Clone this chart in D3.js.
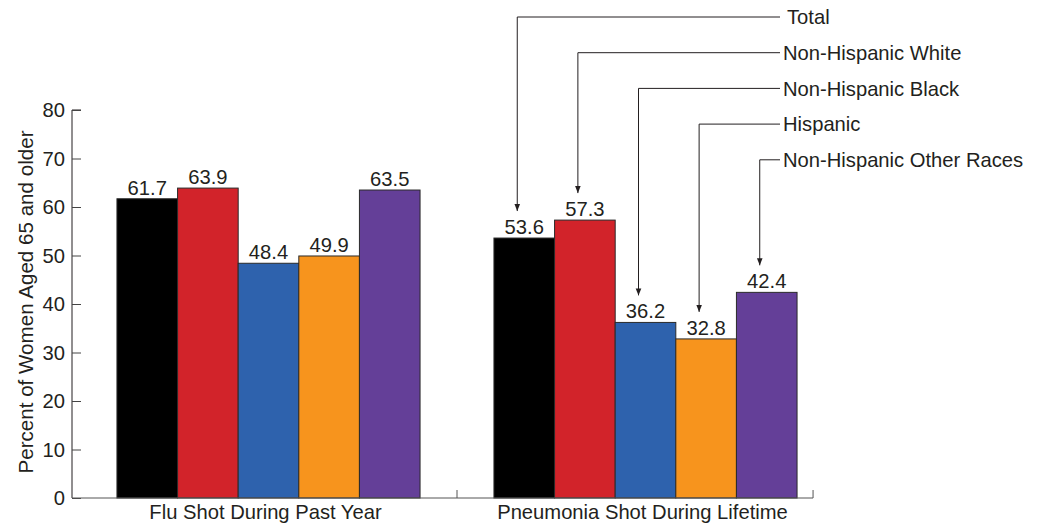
<!DOCTYPE html>
<html><head><meta charset="utf-8">
<script src="https://cdn.jsdelivr.net/npm/d3@7"></script>
<style>
html,body{margin:0;padding:0;background:#fff;}
text{font-family:"Liberation Sans",Arial,sans-serif;fill:#231f20;}
</style></head>
<body><svg id="c" width="1044" height="523"></svg>
<script>
const groups = ["Flu Shot During Past Year", "Pneumonia Shot During Lifetime"];
const seriesNames = ["Total", "Non-Hispanic White", "Non-Hispanic Black", "Hispanic", "Non-Hispanic Other Races"];
const fluValues = [61.7, 63.9, 48.4, 49.9, 63.5];
const pneumoValues = [53.6, 57.3, 36.2, 32.8, 42.4];
const colors = ["#000000", "#d2232a", "#2e62ad", "#f7941d", "#643f98"];
const yTicks = [0, 10, 20, 30, 40, 50, 60, 70, 80];
const yTitle = "Percent of Women Aged 65 and older";

const values = [fluValues, pneumoValues];
const svg = d3.select("#c");
const fs = 20.2;

const y = d3.scaleLinear().domain([0, 80]).range([498, 110]);
const x0 = d3.scaleBand().domain(groups).range([80, 834]).paddingInner(0.196).paddingOuter(0.098);
const x1 = d3.scaleBand().domain(seriesNames).range([0, x0.bandwidth()]);

// y axis
const axisX = 72;
const yAxis = d3.axisRight(y).tickValues(yTicks).tickSize(9).tickFormat("");
const ya = svg.append("g").attr("transform", `translate(${axisX},0)`).call(yAxis);
ya.select(".domain").attr("stroke", "#231f20").attr("d", `M9,${y(80)}H0V${y(0)}`);
ya.selectAll(".tick line").attr("stroke", "#444");
svg.append("g").selectAll("text").data(yTicks).join("text")
  .attr("x", axisX - 7).attr("y", d => y(d)).attr("dy", "0.36em")
  .attr("text-anchor", "end").attr("font-size", fs).text(d => d);

svg.append("text")
  .attr("transform", `translate(33,${(y(0) + y(80)) / 2 - 2}) rotate(-90)`)
  .attr("text-anchor", "middle").attr("font-size", 20.6).text(yTitle);

// bars
groups.forEach((g, gi) => {
  const gg = svg.append("g").attr("transform", `translate(${x0(g)},0)`);
  gg.selectAll("rect").data(values[gi]).join("rect")
    .attr("x", (d, i) => x1(seriesNames[i]))
    .attr("y", d => y(d))
    .attr("width", x1.bandwidth())
    .attr("height", d => y(0) - y(d))
    .attr("fill", (d, i) => colors[i])
    .attr("stroke", "#2a2a2a").attr("stroke-width", 1);
  gg.selectAll("text").data(values[gi]).join("text")
    .attr("x", (d, i) => x1(seriesNames[i]) + x1.bandwidth() / 2)
    .attr("y", d => y(d) - 4)
    .attr("text-anchor", "middle").attr("font-size", fs)
    .text(d => d.toFixed(1));
});

// x axis
const gEnd = x0(groups[1]) + x0.bandwidth() + 16;
const mid = (x0(groups[0]) + x0.bandwidth() + x0(groups[1])) / 2;
svg.append("path").attr("fill", "none").attr("stroke", "#555").attr("stroke-width", 1)
  .attr("d", `M${axisX},${y(0)}H${gEnd}V${y(0) - 8}M${mid},${y(0)}V${y(0) - 8}`);
svg.append("g").selectAll("text").data(groups).join("text")
  .attr("x", d => x0(d) + x0.bandwidth() / 2 - 3).attr("y", 519)
  .attr("text-anchor", "middle").attr("font-size", fs).text(d => d);

// callout legend
const defs = svg.append("defs");
defs.append("marker").attr("id", "arr").attr("viewBox", "0 0 10 10")
  .attr("refX", 10).attr("refY", 5).attr("markerWidth", 7).attr("markerHeight", 7)
  .attr("markerUnits", "userSpaceOnUse").attr("orient", "auto")
  .append("path").attr("d", "M0,1L10,5L0,9Z").attr("fill", "#231f20");

const legY0 = 17, legStep = 35.7, lineEnd = 780;
seriesNames.forEach((s, i) => {
  const ly = legY0 + i * legStep;
  const ax = x0(groups[1]) + x1(s) + x1.bandwidth() / 2 - 7;
  const tipY = y(pneumoValues[i]) - 27;
  svg.append("path").attr("fill", "none").attr("stroke", "#231f20").attr("stroke-width", 1)
    .attr("d", `M${lineEnd},${ly}H${ax}V${tipY}`).attr("marker-end", "url(#arr)");
  svg.append("text").attr("x", i === 0 ? 787 : 783).attr("y", ly).attr("dy", "0.36em")
    .attr("font-size", fs).text(s);
});
</script></body></html>
